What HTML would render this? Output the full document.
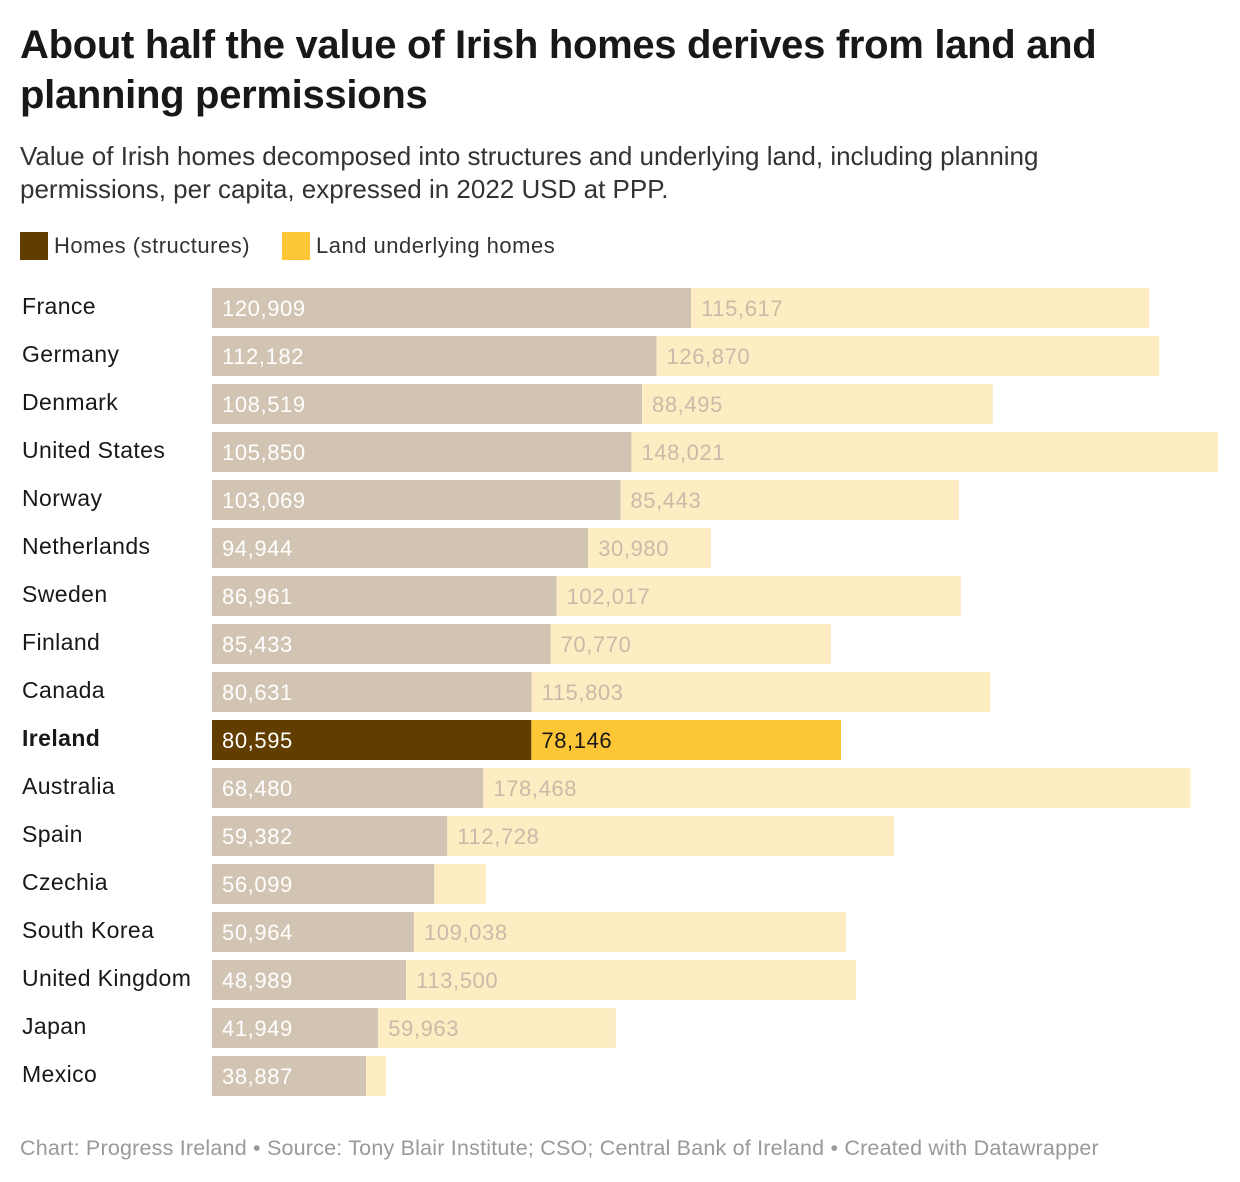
<!DOCTYPE html>
<html><head><meta charset="utf-8">
<style>
body{margin:0;width:1240px;height:1182px;background:#fff;font-family:"Liberation Sans",Arial,sans-serif;color:#181818;position:relative;overflow:hidden}
#title{position:absolute;left:20px;top:20px;width:1200px;font-size:40px;font-weight:bold;line-height:50px;letter-spacing:-0.3px}
#sub{position:absolute;left:20px;top:140px;width:1110px;font-size:26px;line-height:33px;color:#333}
.leg{position:absolute;top:232px;font-size:22px;line-height:28px;color:#333;letter-spacing:0.5px}
.sw{display:inline-block;width:28px;height:28px;vertical-align:top;margin-right:6px}
#foot{position:absolute;left:20px;top:1136px;font-size:21.5px;color:#999;letter-spacing:0.2px}
</style></head><body>
<div id="title">About half the value of Irish homes derives from land and planning permissions</div>
<div id="sub">Value of Irish homes decomposed into structures and underlying land, including planning permissions, per capita, expressed in 2022 USD at PPP.</div>
<div class="leg" style="left:20px"><span class="sw" style="background:#613e00"></span>Homes (structures)</div>
<div class="leg" style="left:282px"><span class="sw" style="background:#fdc636"></span>Land underlying homes</div>
<svg id="chart" width="1240" height="1182" style="position:absolute;left:0;top:0"></svg>
<div id="foot">Chart: Progress Ireland • Source: Tony Blair Institute; CSO; Central Bank of Ireland • Created with Datawrapper</div>
<script>
const countries=["France","Germany","Denmark","United States","Norway","Netherlands","Sweden","Finland","Canada","Ireland","Australia","Spain","Czechia","South Korea","United Kingdom","Japan","Mexico"];
const structures=[120909,112182,108519,105850,103069,94944,86961,85433,80631,80595,68480,59382,56099,50964,48989,41949,38887];
const land=[115617,126870,88495,148021,85443,30980,102017,70770,115803,78146,178468,112728,13000,109038,113500,59963,5000];
const showLand=[true,true,true,true,true,true,true,true,true,true,true,true,false,true,true,true,false];
const NS="http://www.w3.org/2000/svg";
const svg=document.getElementById('chart');
const x0=212,scale=1006/253871;
const xs=v=>v*scale;
const ys=i=>288+i*48;
const fmt=v=>v.toLocaleString('en-US');
function mk(t,a){const e=document.createElementNS(NS,t);for(const k in a)e.setAttribute(k,a[k]);svg.appendChild(e);return e;}
countries.forEach((c,i)=>{
 const ire=c==="Ireland";
 const y=ys(i);
 const lab=mk('text',{x:22,y:y+26,'font-size':23,'letter-spacing':0.4,fill:'#181818','font-weight':ire?'bold':'normal'});
 lab.textContent=c;
 
 
 const w1=xs(structures[i]),w2=xs(land[i]);
 const r1=mk('rect',{x:x0,y:y,width:w1,height:40,fill:ire?'#613e00':'#d1c4b2'});
 
 
 const r2=mk('rect',{x:x0+w1,y:y,width:w2,height:40,fill:ire?'#fdc636':'#feecc2'});
 
 
 const t1=mk('text',{x:x0+10,y:y+28,'font-size':22,'letter-spacing':0.6,fill:'#fff'});
 t1.textContent=fmt(structures[i]);
 
 
 if(showLand[i]){
  const t2=mk('text',{x:x0+w1+10,y:y+28,'font-size':22,'letter-spacing':0.6,fill:ire?'#181818':'#c9bba8'});
  t2.textContent=fmt(land[i]);
  
  
 }
});
</script>
</body></html>
